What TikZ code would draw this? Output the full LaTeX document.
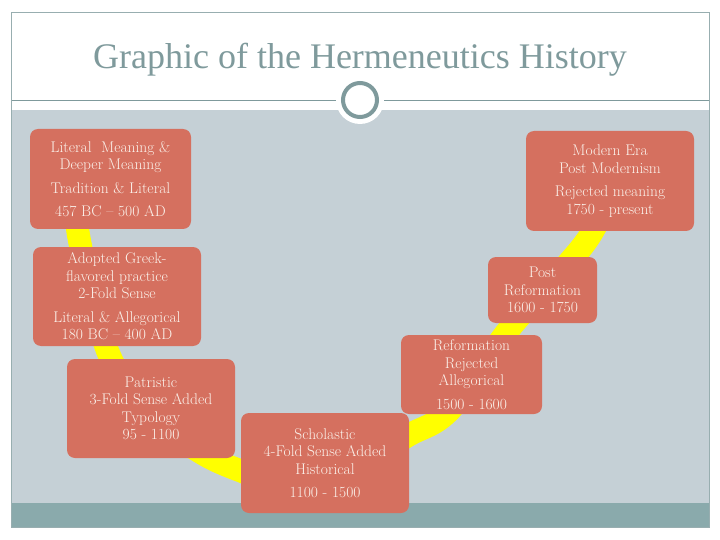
\documentclass[tikz,border=0pt]{standalone}
\usepackage{fontspec}
\usepackage{xcolor}
\usetikzlibrary{positioning}
\newfontfamily\titlefont{Liberation Serif}
\definecolor{slideblue}{HTML}{C5D0D6}
\definecolor{slideteal}{HTML}{8AAAAC}
\definecolor{slidegrey}{HTML}{7F9A9C}
\definecolor{boxred}{HTML}{D5705F}
\definecolor{bandyellow}{HTML}{FFFF00}
\definecolor{boxtext}{HTML}{FBF1EA}

\begin{document}
\begin{tikzpicture}[x=1pt, y=-1pt, on grid,
    era/.style={rectangle, rounded corners=8pt, fill=boxred, text=boxtext, align=center,
      inner sep=0pt, font=\fontsize{15.5}{17.5}\selectfont},
    band/.style={line width=23pt, bandyellow}]
    \useasboundingbox (0,0) rectangle (720,540);
    \fill[white] (0,0) rectangle (720,540);
    \fill[slideblue] (11,110) rectangle (709,503);
    \fill[slideteal] (11,503) rectangle (709,527);
    \draw[slidegrey, line width=0.8pt] (11,100) -- (709,100);
    \draw[slidegrey!80, line width=0.8pt] (11,12) rectangle (709,527);
    \node[text=slidegrey, font=\titlefont\fontsize{36}{40}\selectfont] (title) at (360,60)
      {Graphic of the Hermeneutics History};
    \fill[white] (360,100) circle (24pt);
    \node[circle, draw=slidegrey, line width=4pt, fill=white, minimum size=34pt] (knob) at (360,100) {};

    % the U-shaped band behind the eras
    \draw[band] plot[smooth, tension=0.55] coordinates {(74,170) (79,238) (108,352) (150,415)
      (200,452) (241,471) (305,492) (370,458) (409,435) (450,410) (510,328) (585,243) (612,190)};

    \node[era, minimum width=161pt, minimum height=100pt] (literal) at (110.5,179)
      {Literal\ \ Meaning \&\\ Deeper Meaning\\[6pt] Tradition \& Literal\\[6pt] 457 BC -- 500 AD};
    \node[era, minimum width=168pt, minimum height=99pt, below right=117.5pt and 6.5pt of literal] (greek)
      {Adopted Greek-\\ flavored practice\\ 2-Fold Sense\\[6pt] Literal \& Allegorical\\ 180 BC -- 400 AD};
    \node[era, minimum width=168pt, minimum height=99pt, below right=112pt and 34pt of greek] (patristic)
      {Patristic\\ 3-Fold Sense Added\\ Typology\\ 95 - 1100};
    \node[era, minimum width=168pt, minimum height=100pt, below right=54.5pt and 174pt of patristic] (scholastic)
      {Scholastic\\ 4-Fold Sense Added\\ Historical\\[6pt] 1100 - 1500};
    \node[era, minimum width=141pt, minimum height=79pt, above right=88.5pt and 146.5pt of scholastic] (reform)
      {Reformation\\ Rejected\\ Allegorical\\[6pt] 1500 - 1600};
    \node[era, minimum width=109pt, minimum height=66pt, above right=84.5pt and 71pt of reform] (postreform)
      {Post\\ Reformation\\ 1600 - 1750};
    \node[era, minimum width=168pt, minimum height=100pt, above right=109pt and 67.5pt of postreform] (modern)
      {Modern Era\\ Post Modernism\\[6pt] Rejected meaning\\ 1750 - present};
  \end{tikzpicture}
\end{document}
